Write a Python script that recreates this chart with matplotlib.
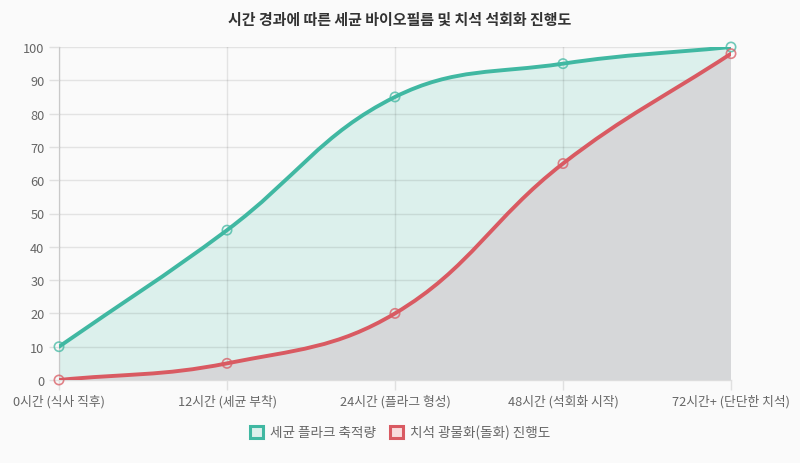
import numpy as np
import matplotlib
matplotlib.use("Agg")
import matplotlib.pyplot as plt
from matplotlib.path import Path
from matplotlib.patches import PathPatch, Patch

plt.rcParams['font.family'] = ['Noto Sans CJK KR', 'DejaVu Sans']

title = "시간 경과에 따른 세균 바이오필름 및 치석 석회화 진행도"
categories = ["0시간 (식사 직후)", "12시간 (세균 부착)", "24시간 (플라그 형성)",
              "48시간 (석회화 시작)", "72시간+ (단단한 치석)"]
plaque = [10, 45, 85, 95, 100]
calculus = [0, 5, 20, 65, 98]
labels = ["세균 플라크 축적량", "치석 광물화(돌화) 진행도"]

TEAL = "#40b8a2"
TEAL_FILL = "#dcf0ec"
RED = "#d95a62"
GRAY_FILL = "#d6d7d9"
BG = "#fafafa"


def spline_path(ax, xs, ys, tension=0.4):
    # chart.js style bezier smoothing, computed in pixel space
    pts = ax.transData.transform(np.column_stack([xs, ys]))
    n = len(pts)
    codes = [Path.MOVETO]
    ctrl = []
    for i in range(n):
        prev = pts[max(i - 1, 0)]
        cur = pts[i]
        nxt = pts[min(i + 1, n - 1)]
        d01 = np.hypot(*(cur - prev))
        d12 = np.hypot(*(nxt - cur))
        s01 = d01 / (d01 + d12) if d01 + d12 else 0
        s12 = d12 / (d01 + d12) if d01 + d12 else 0
        fa, fb = tension * s01, tension * s12
        ctrl.append((cur - fa * (nxt - prev), cur + fb * (nxt - prev)))
    inv = ax.transData.inverted()
    out = [np.array([xs[0], ys[0]])]
    for i in range(1, n):
        c1 = inv.transform(ctrl[i - 1][1])
        c2 = inv.transform(ctrl[i][0])
        c1[1] = min(max(c1[1], 0), 100)
        c2[1] = min(max(c2[1], 0), 100)
        out += [c1, c2, np.array([xs[i], ys[i]])]
        codes += [Path.CURVE4] * 3
    return np.array(out), codes


fig = plt.figure(figsize=(8, 4.64), dpi=100, facecolor=BG)
ax = fig.add_axes([59 / 800, 1 - 381 / 464, 672 / 800, 333 / 464])
ax.set_facecolor(BG)
x = np.arange(len(categories))
ax.set_xlim(0, len(categories) - 1)
ax.set_ylim(0, 100)

for ys, line_c, fill_c, z in [(plaque, TEAL, TEAL_FILL, 2), (calculus, RED, GRAY_FILL, 3)]:
    verts, codes = spline_path(ax, x, ys)
    line = Path(verts, codes)
    ax.add_patch(PathPatch(line, facecolor="none", edgecolor=line_c, lw=2.8, zorder=z + 2,
                           capstyle="round", joinstyle="round"))
    fv = np.vstack([verts, [[x[-1], 0], [x[0], 0], verts[0]]])
    fc = codes + [Path.LINETO, Path.LINETO, Path.CLOSEPOLY]
    ax.add_patch(PathPatch(Path(fv, fc), facecolor=fill_c, edgecolor="none", zorder=z))
    ax.scatter(x, ys, s=45, facecolor="none", edgecolor=line_c, linewidths=1.2,
               zorder=z + 3, clip_on=False, alpha=0.75)

ax.set_yticks(range(0, 101, 10))
ax.set_xticks(x)
ax.set_xticklabels(categories)
ax.grid(True, color="#000000", alpha=0.09, lw=1, zorder=4)
ax.set_axisbelow(False)
for s in ["top", "right"]:
    ax.spines[s].set_visible(False)
for s in ["left", "bottom"]:
    ax.spines[s].set_color("#dddddd")
    ax.spines[s].set_linewidth(1)
ax.tick_params(axis="both", colors="#e0e0e0", labelcolor="#666666", labelsize=9.2,
               length=7, width=1)
ax.tick_params(axis="x", pad=3)

fig.text(0.5, 1 - 20 / 464, title, ha="center", va="center", fontsize=10.8,
         fontweight="bold", color="#333333")

handles = [Patch(facecolor=TEAL_FILL, edgecolor=TEAL, lw=2.2),
           Patch(facecolor="#f8dcdd", edgecolor=RED, lw=2.2)]
fig.legend(handles, labels, loc="center", bbox_to_anchor=(0.5, 1 - 433 / 464), ncol=2,
           frameon=False, fontsize=9.8, labelcolor="#666666", handlelength=1.0,
           handleheight=1.0, handletextpad=0.5, columnspacing=1.0)

fig.savefig("out.png", dpi=100, facecolor=BG)
